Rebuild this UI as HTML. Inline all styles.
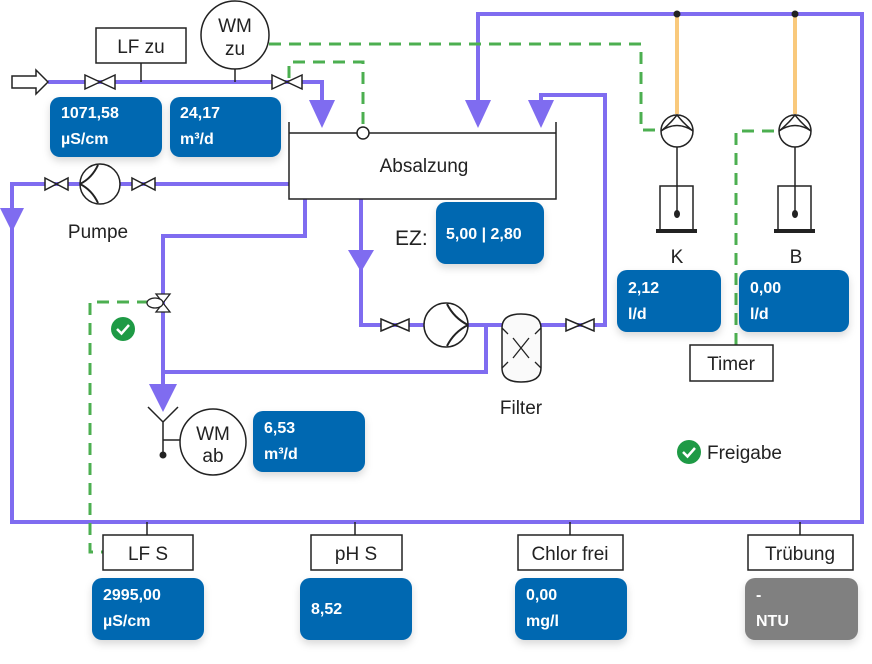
<!DOCTYPE html>
<html><head><meta charset="utf-8"><style>
html,body{margin:0;padding:0;background:#fff;}
svg{display:block;}
text{font-family:"Liberation Sans",sans-serif;}
.lbl{font-size:19px;fill:#222;}
.v{font-size:16px;font-weight:bold;fill:#fff;}
</style></head><body>
<svg width="872" height="664" viewBox="0 0 872 664" xmlns="http://www.w3.org/2000/svg">
<defs>
<filter id="sh" x="-20%" y="-20%" width="140%" height="160%"><feDropShadow dx="0" dy="4" stdDeviation="4" flood-color="#000" flood-opacity="0.15"/></filter>
</defs>
<g stroke="#7f6cf0" stroke-width="4" fill="none" stroke-linejoin="miter">
<path d="M48 82 H322 V105"/>
<path d="M478 100 V14 H862 V522 H12 V184 H289"/>
<path d="M541 100 V95 H605 V325 H361 V199"/>
<path d="M305 199 V236 H163 V390"/>
<path d="M163 372 H486 V325"/>
</g>
<g fill="#7f6cf0">
<polygon points="309,100 335,100 322,128"/>
<polygon points="465,100 491,100 478,128"/>
<polygon points="528,100 554,100 541,128"/>
<polygon points="0,208 24,208 12,232"/>
<polygon points="348,250 374,250 361,272"/>
<polygon points="149,384 177,384 163,412"/>
</g>
<g stroke="#4caf50" stroke-width="3" fill="none" stroke-dasharray="12,8">
<path d="M269 44 H641 V130 H661"/>
<path d="M289 78 V62 H363 V127"/>
<path d="M736 345 V131 H779"/>
<path d="M149 302 H90 V552 H103"/>
</g>
<g stroke="#f9c97c" stroke-width="4"><line x1="677" y1="14" x2="677" y2="114"/><line x1="795" y1="14" x2="795" y2="114"/></g>
<circle cx="677" cy="14" r="3.5" fill="#222"/><circle cx="795" cy="14" r="3.5" fill="#222"/>
<polygon points="12,76 36,76 36,70 48,82 36,94 36,88 12,88" fill="#fff" stroke="#222" stroke-width="1.5"/>
<g fill="#fff" stroke="#222" stroke-width="1.5">
<polygon points="85,75 115,89 115,75 85,89"/>
<polygon points="272,75 302,89 302,75 272,89"/>
<polygon points="45,178 68,190 68,178 45,190"/>
<polygon points="132,178 155,190 155,178 132,190"/>
<polygon points="381,319 409,331 409,319 381,331"/>
<polygon points="566,319 594,331 594,319 566,331"/>
</g>
<line x1="141" y1="63" x2="141" y2="82" stroke="#222" stroke-width="1.5"/>
<rect x="96" y="28" width="90" height="35" fill="#fff" stroke="#222" stroke-width="1.5"/>
<text x="141" y="53" class="lbl" text-anchor="middle">LF zu</text>
<line x1="235" y1="68" x2="235" y2="82" stroke="#222" stroke-width="1.5"/>
<circle cx="235" cy="35" r="34" fill="#fff" stroke="#222" stroke-width="1.5"/>
<text x="235" y="32" class="lbl" text-anchor="middle">WM</text>
<text x="235" y="55" class="lbl" text-anchor="middle">zu</text>
<path d="M289 122 V199 H556 V122 M289 133 H556" fill="none" stroke="#222" stroke-width="1.5"/>
<circle cx="363" cy="133" r="6" fill="#fff" stroke="#222" stroke-width="1.5"/>
<text x="424" y="172" class="lbl" text-anchor="middle">Absalzung</text>
<circle cx="100" cy="184" r="20" fill="#fff" stroke="#222" stroke-width="1.5"/>
<path d="M80 184 Q92 178 98 165 M80 184 Q92 190 98 203" fill="none" stroke="#222" stroke-width="2"/>
<text x="98" y="238" class="lbl" text-anchor="middle">Pumpe</text>
<circle cx="446" cy="325" r="22" fill="#fff" stroke="#222" stroke-width="1.5"/>
<path d="M468 325 Q454 318 447 304 M468 325 Q454 332 447 346" fill="none" stroke="#222" stroke-width="2"/>
<path d="M502 328 Q502 314 521 314 Q541 314 541 328 V368 Q541 382 521 382 Q502 382 502 368 Z" fill="#fafafa" stroke="#222" stroke-width="1.5"/>
<path d="M513 338 L529 358 M529 338 L513 358 M502 328 L508 334 M541 328 L535 334 M502 368 L508 362 M541 368 L535 362" stroke="#222" stroke-width="1.3"/>
<text x="521" y="414" class="lbl" text-anchor="middle">Filter</text>
<g fill="#fff" stroke="#222" stroke-width="1.3">
<polygon points="156,294 170,294 163,303"/>
<polygon points="156,312 170,312 163,303"/>
<ellipse cx="155" cy="303" rx="8" ry="5"/>
</g>
<circle cx="123" cy="329" r="12" fill="#1e9a45"/>
<path d="M117 329 L121.5 333.5 L129 325" stroke="#fff" stroke-width="2.5" fill="none"/>
<path d="M148 407 L163 422 L178 407 M163 422 V454 M163 440 H180" fill="none" stroke="#222" stroke-width="1.5"/>
<circle cx="163" cy="455" r="3.5" fill="#222"/>
<circle cx="213" cy="442" r="33" fill="#fff" stroke="#222" stroke-width="1.5"/>
<text x="213" y="440" class="lbl" text-anchor="middle">WM</text>
<text x="213" y="462" class="lbl" text-anchor="middle">ab</text>
<g fill="#fff" stroke="#222" stroke-width="1.5">
<circle cx="677" cy="131" r="16"/>
<circle cx="795" cy="131" r="16"/>
</g>
<path d="M661 131 Q670 124 677 115 Q684 124 693 131 M661 131 Q677 120 693 131 M779 131 Q788 124 795 115 Q802 124 811 131 M779 131 Q795 120 811 131" fill="none" stroke="#222" stroke-width="1.5"/>
<g stroke="#222" stroke-width="1.5" fill="none">
<line x1="677" y1="147" x2="677" y2="213"/><line x1="795" y1="147" x2="795" y2="213"/>
<path d="M660 230 V186 H693 V230"/><path d="M778 230 V186 H811 V230"/>
</g>
<rect x="656" y="229" width="41" height="4" fill="#222"/><rect x="774" y="229" width="41" height="4" fill="#222"/>
<ellipse cx="677" cy="214" rx="3" ry="4" fill="#222"/><ellipse cx="795" cy="214" rx="3" ry="4" fill="#222"/>
<text x="677" y="263" class="lbl" text-anchor="middle">K</text>
<text x="796" y="263" class="lbl" text-anchor="middle">B</text>
<rect x="690" y="345" width="83" height="36" fill="#fff" stroke="#222" stroke-width="1.5"/>
<text x="731" y="370" class="lbl" text-anchor="middle">Timer</text>
<text x="395" y="245" class="lbl" style="font-size:21px">EZ:</text>
<circle cx="689" cy="452" r="12" fill="#1e9a45"/>
<path d="M683 452 L687.5 456.5 L695 448" stroke="#fff" stroke-width="2.5" fill="none"/>
<text x="707" y="459" class="lbl">Freigabe</text>
<g stroke="#222" stroke-width="1.5">
<line x1="147" y1="522" x2="147" y2="535"/><line x1="355" y1="522" x2="355" y2="535"/>
<line x1="570" y1="522" x2="570" y2="535"/><line x1="800" y1="522" x2="800" y2="535"/>
</g>
<g fill="#fff" stroke="#222" stroke-width="1.5">
<rect x="103" y="535" width="90" height="35"/><rect x="311" y="535" width="91" height="35"/>
<rect x="518" y="535" width="105" height="35"/><rect x="748" y="535" width="105" height="35"/>
</g>
<text x="148" y="560" class="lbl" text-anchor="middle">LF S</text>
<text x="356" y="560" class="lbl" text-anchor="middle">pH S</text>
<text x="570" y="560" class="lbl" text-anchor="middle">Chlor frei</text>
<text x="800" y="560" class="lbl" text-anchor="middle">Trübung</text>
<g filter="url(#sh)" fill="#0067b1">
<rect x="50" y="97" width="112" height="60" rx="10"/>
<rect x="170" y="97" width="111" height="60" rx="10"/>
<rect x="436" y="202" width="108" height="62" rx="10"/>
<rect x="617" y="270" width="104" height="62" rx="10"/>
<rect x="739" y="270" width="110" height="62" rx="10"/>
<rect x="253" y="411" width="112" height="61" rx="10"/>
<rect x="92" y="578" width="112" height="62" rx="10"/>
<rect x="300" y="578" width="112" height="62" rx="10"/>
<rect x="515" y="578" width="112" height="62" rx="10"/>
<rect x="745" y="578" width="113" height="62" rx="10" fill="#808080"/>
</g>
<g>
<text x="61" y="118" class="v">1071,58</text><text x="61" y="144" class="v">µS/cm</text>
<text x="180" y="118" class="v">24,17</text><text x="180" y="144" class="v">m³/d</text>
<text x="446" y="239" class="v">5,00 | 2,80</text>
<text x="628" y="293" class="v">2,12</text><text x="628" y="319" class="v">l/d</text>
<text x="750" y="293" class="v">0,00</text><text x="750" y="319" class="v">l/d</text>
<text x="264" y="433" class="v">6,53</text><text x="264" y="459" class="v">m³/d</text>
<text x="103" y="600" class="v">2995,00</text><text x="103" y="626" class="v">µS/cm</text>
<text x="311" y="614" class="v">8,52</text>
<text x="526" y="600" class="v">0,00</text><text x="526" y="626" class="v">mg/l</text>
<text x="756" y="600" class="v">-</text><text x="756" y="626" class="v">NTU</text>
</g>
</svg>
</body></html>
